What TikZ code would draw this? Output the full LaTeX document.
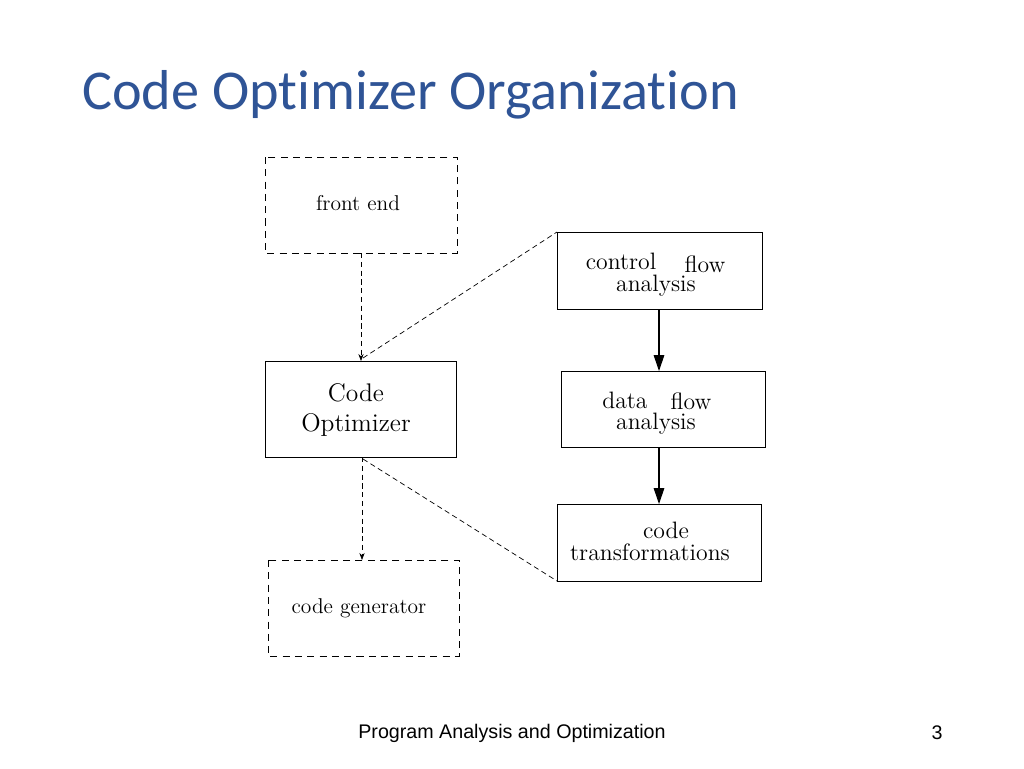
\documentclass[tikz,border=0pt]{standalone}
\usepackage{fontspec}
\newfontfamily\titlefont[Ligatures=NoCommon]{Carlito}
\newfontfamily\footfont{Liberation Sans}
\usetikzlibrary{arrows.meta}
\definecolor{titleblue}{RGB}{47,84,150}
\tikzset{
 px/.style={x=0.02cm,y=-0.02cm},
 dbox/.style={draw,dashed,dash pattern=on 4pt off 3pt,line width=0.5pt},
 sbox/.style={draw,line width=0.5pt},
 lbl/.style={font=\fontsize{12.2}{14}\selectfont},
 tl/.style={font=\fontsize{13.5}{15}\selectfont,inner sep=1pt},
 blbl/.style={font=\fontsize{14.5}{17}\selectfont,align=center},
 darr/.style={dashed,dash pattern=on 3pt off 2pt,line width=0.4pt,-{Stealth[length=4pt,width=3pt]}},
 sarr/.style={line width=0.6pt,-{Triangle[length=9pt,width=6pt]}},
 dline/.style={dashed,dash pattern=on 3pt off 2pt,line width=0.4pt}
}
\begin{document}
\begin{tikzpicture}[px]
\useasboundingbox (0,0) rectangle (1024,768);
\node[anchor=west,text=titleblue,font=\titlefont\fontsize{32}{36}\selectfont] at (76,95) {Code Optimizer Organization};
\draw[dbox] (265,157) rectangle (457,253);
\node[lbl] (fe) at (358,203) {front end};
\coordinate (feb) at (361,253);
\draw[sbox] (265,361) rectangle (456,457);
\node[blbl] (co) at (356,410) {Code\\Optimizer};
\coordinate (cot) at (361,361);
\coordinate (cob) at (362,457);
\coordinate (cotr) at (363,358);
\coordinate (cobr) at (363,459);
\draw[dbox] (268,560) rectangle (459,656);
\node[lbl] (cg) at (359,608) {code generator};
\coordinate (cgt) at (362,560);
\draw[sbox] (557,232) rectangle (762,309);
\node[tl] at (621,261) {control};
\node[tl] at (705,264) {flow};
\node[tl] at (656,286) {analysis};
\coordinate (cfb) at (659,309);
\coordinate (cftl) at (557,232);
\draw[sbox] (561,371) rectangle (765,447);
\node[tl] at (625,400) {data};
\node[tl] at (691,401) {flow};
\node[tl] at (656,424) {analysis};
\coordinate (dft) at (659,371);
\coordinate (dfb) at (659,447);
\draw[sbox] (557,504) rectangle (761,581);
\node[tl] at (666,530) {code};
\node[tl] at (650,552) {transformations};
\coordinate (ctt) at (659,504);
\coordinate (ctbl) at (557,581);
\draw[darr] (feb) -- (cot);
\draw[darr] (cob) -- (cgt);
\draw[dline] (cotr) -- (cftl);
\draw[dline] (cobr) -- (ctbl);
\draw[sarr] (cfb) -- (dft);
\draw[sarr] (dfb) -- (ctt);
\node[font=\footfont\fontsize{11.2}{13}\selectfont] (ft) at (512,733) {Program Analysis and Optimization};
\node[font=\footfont\fontsize{11.2}{13}\selectfont] (pg) at (937,733) {3};
\end{tikzpicture}
\end{document}
